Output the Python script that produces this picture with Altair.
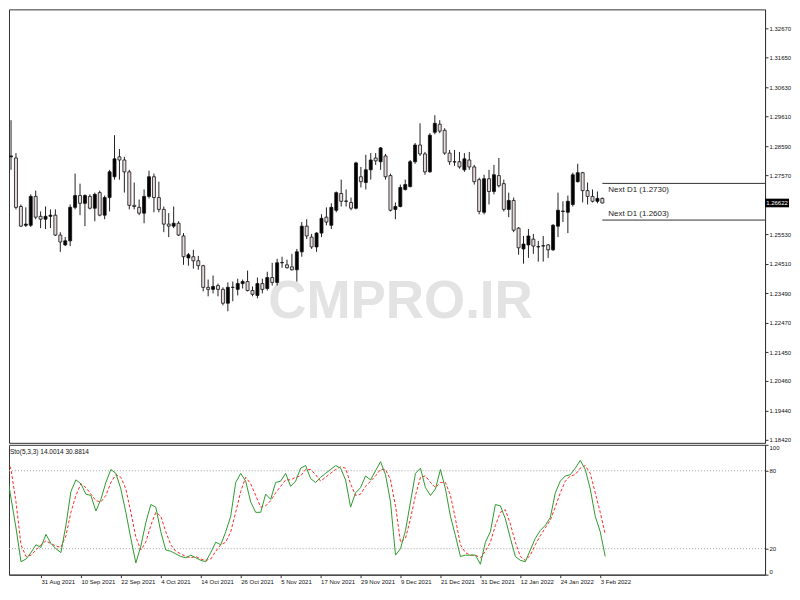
import altair as alt
import pandas as pd

# ---------------- data ----------------
open_p = [1.2784, 1.2822, 1.2818, 1.2650, 1.2585, 1.2585, 1.2685, 1.2616, 1.2606, 1.2616,
          1.2620, 1.2551, 1.2517, 1.2531, 1.2647, 1.2688, 1.2661, 1.2685, 1.2644, 1.2698,
          1.2620, 1.2681, 1.2753, 1.2822, 1.2811, 1.2770, 1.2654, 1.2647, 1.2627, 1.2685,
          1.2753, 1.2681, 1.2640, 1.2589, 1.2582, 1.2592, 1.2548, 1.2472, 1.2476, 1.2462,
          1.2445, 1.2370, 1.2363, 1.2376, 1.2363, 1.2315, 1.2370, 1.2363, 1.2383, 1.2390,
          1.2359, 1.2342, 1.2383, 1.2366, 1.2404, 1.2387, 1.2455, 1.2448, 1.2441, 1.2431,
          1.2493, 1.2582, 1.2544, 1.2510, 1.2558, 1.2613, 1.2585, 1.2637, 1.2695, 1.2668,
          1.2664, 1.2644, 1.2753, 1.2733, 1.2777, 1.2818, 1.2805, 1.2825, 1.2757, 1.2640,
          1.2650, 1.2709, 1.2719, 1.2805, 1.2863, 1.2832, 1.2770, 1.2907, 1.2935, 1.2914,
          1.2835, 1.2805, 1.2805, 1.2777, 1.2811, 1.2787, 1.2743, 1.2630, 1.2746, 1.2702,
          1.2757, 1.2729, 1.2640, 1.2671, 1.2575, 1.2503, 1.2517, 1.2537, 1.2510, 1.2513,
          1.2517, 1.2500, 1.2582, 1.2633, 1.2630, 1.2657, 1.2736, 1.2767, 1.2705, 1.2685,
          1.2668, 1.2678]
high_p = [1.2846, 1.2949, 1.2835, 1.2657, 1.2647, 1.2692, 1.2705, 1.2633, 1.2650, 1.2640,
          1.2640, 1.2561, 1.2544, 1.2657, 1.2764, 1.2729, 1.2692, 1.2692, 1.2698, 1.2705,
          1.2688, 1.2777, 1.2897, 1.2849, 1.2822, 1.2777, 1.2733, 1.2674, 1.2709, 1.2774,
          1.2764, 1.2736, 1.2650, 1.2627, 1.2650, 1.2599, 1.2558, 1.2489, 1.2500, 1.2479,
          1.2448, 1.2397, 1.2411, 1.2383, 1.2370, 1.2387, 1.2390, 1.2400, 1.2397, 1.2428,
          1.2373, 1.2404, 1.2400, 1.2424, 1.2455, 1.2469, 1.2476, 1.2466, 1.2486, 1.2503,
          1.2596, 1.2606, 1.2555, 1.2561, 1.2623, 1.2647, 1.2661, 1.2702, 1.2743, 1.2709,
          1.2681, 1.2805, 1.2787, 1.2829, 1.2835, 1.2835, 1.2856, 1.2832, 1.2764, 1.2664,
          1.2726, 1.2743, 1.2811, 1.2870, 1.2938, 1.2839, 1.2904, 1.2966, 1.2949, 1.2921,
          1.2846, 1.2846, 1.2839, 1.2835, 1.2839, 1.2794, 1.2750, 1.2760, 1.2777, 1.2794,
          1.2818, 1.2743, 1.2698, 1.2681, 1.2579, 1.2548, 1.2572, 1.2555, 1.2531, 1.2548,
          1.2520, 1.2589, 1.2698, 1.2668, 1.2688, 1.2767, 1.2798, 1.2770, 1.2733, 1.2709,
          1.2702, 1.2681]
low_p = [1.2770, 1.2777, 1.2640, 1.2579, 1.2579, 1.2579, 1.2606, 1.2575, 1.2572, 1.2575,
         1.2548, 1.2493, 1.2513, 1.2513, 1.2640, 1.2620, 1.2582, 1.2640, 1.2599, 1.2616,
         1.2606, 1.2633, 1.2743, 1.2743, 1.2698, 1.2640, 1.2640, 1.2620, 1.2592, 1.2678,
         1.2630, 1.2630, 1.2561, 1.2544, 1.2575, 1.2548, 1.2448, 1.2445, 1.2435, 1.2431,
         1.2356, 1.2339, 1.2349, 1.2339, 1.2308, 1.2287, 1.2322, 1.2342, 1.2366, 1.2356,
         1.2339, 1.2332, 1.2349, 1.2359, 1.2376, 1.2376, 1.2438, 1.2435, 1.2428, 1.2390,
         1.2476, 1.2537, 1.2503, 1.2493, 1.2544, 1.2585, 1.2572, 1.2630, 1.2650, 1.2650,
         1.2637, 1.2640, 1.2716, 1.2709, 1.2743, 1.2794, 1.2777, 1.2743, 1.2633, 1.2606,
         1.2647, 1.2705, 1.2716, 1.2798, 1.2825, 1.2760, 1.2767, 1.2900, 1.2904, 1.2829,
         1.2794, 1.2791, 1.2781, 1.2770, 1.2777, 1.2726, 1.2623, 1.2623, 1.2657, 1.2692,
         1.2716, 1.2633, 1.2613, 1.2561, 1.2483, 1.2452, 1.2472, 1.2486, 1.2459, 1.2459,
         1.2472, 1.2496, 1.2544, 1.2596, 1.2558, 1.2650, 1.2733, 1.2664, 1.2657, 1.2664,
         1.2661, 1.2661]
close_p = [1.2825, 1.2825, 1.2647, 1.2582, 1.2589, 1.2685, 1.2613, 1.2606, 1.2616, 1.2620,
           1.2551, 1.2527, 1.2531, 1.2647, 1.2688, 1.2661, 1.2688, 1.2644, 1.2692, 1.2620,
           1.2681, 1.2770, 1.2815, 1.2811, 1.2770, 1.2654, 1.2650, 1.2627, 1.2685, 1.2753,
           1.2681, 1.2640, 1.2589, 1.2582, 1.2592, 1.2551, 1.2476, 1.2483, 1.2462, 1.2445,
           1.2370, 1.2363, 1.2373, 1.2363, 1.2315, 1.2370, 1.2370, 1.2383, 1.2390, 1.2359,
           1.2346, 1.2383, 1.2363, 1.2404, 1.2387, 1.2455, 1.2456, 1.2438, 1.2431, 1.2493,
           1.2582, 1.2548, 1.2510, 1.2558, 1.2609, 1.2596, 1.2647, 1.2698, 1.2668, 1.2669,
           1.2644, 1.2801, 1.2736, 1.2777, 1.2811, 1.2808, 1.2853, 1.2753, 1.2637, 1.2650,
           1.2716, 1.2726, 1.2805, 1.2863, 1.2832, 1.2770, 1.2897, 1.2938, 1.2911, 1.2835,
           1.2805, 1.2804, 1.2787, 1.2815, 1.2787, 1.2736, 1.2633, 1.2746, 1.2702, 1.2760,
           1.2722, 1.2640, 1.2671, 1.2568, 1.2507, 1.2520, 1.2548, 1.2513, 1.2511, 1.2514,
           1.2500, 1.2585, 1.2637, 1.2634, 1.2668, 1.2760, 1.2767, 1.2705, 1.2685, 1.2668,
           1.2678, 1.26622]

stoch_k = [92, 82, 59, 36, 10, 12, 17, 23, 21, 31,
           24, 20, 17, 38, 64, 73, 70, 62, 61, 49,
           58, 71, 81, 78, 66, 48, 28, 9, 22, 40,
           54, 52, 33, 19, 18, 16, 14, 13, 15, 13,
           11, 10, 17, 25, 23, 33, 45, 71, 78, 72,
           56, 48, 48, 62, 58, 71, 72, 78, 68, 72,
           82, 84, 74, 71, 75, 78, 81, 84, 82, 73,
           52, 63, 67, 76, 73, 80, 87, 77, 56, 15,
           20, 34, 56, 78, 82, 67, 61, 66, 81, 66,
           45, 30, 14, 15, 15, 15, 8, 25, 33, 54,
           53, 43, 28, 14, 11, 10, 19, 28, 34, 38,
           44, 63, 72, 76, 77, 82, 88, 81, 66, 45,
           33, 14.0014]
stoch_d = [97, 92, 81, 56, 23, 14, 15, 19, 23, 26,
           24, 22, 21, 30, 48, 61, 70, 67, 62, 57,
           56, 61, 71, 77, 75, 66, 48, 29, 19, 25,
           38, 48, 45, 33, 23, 18, 16, 14, 13, 14,
           12, 11, 12, 18, 23, 25, 33, 48, 64, 75,
           70, 61, 52, 53, 57, 63, 68, 73, 73, 75,
           76, 81, 81, 77, 72, 75, 78, 81, 83, 82,
           70, 61, 62, 68, 72, 76, 81, 81, 73, 53,
           25, 28, 43, 61, 75, 76, 71, 67, 71, 71,
           61, 43, 23, 17, 15, 15, 13, 18, 25, 38,
           48, 50, 39, 25, 14, 11, 15, 23, 30, 36,
           42, 52, 63, 72, 76, 77, 82, 84, 78, 63,
           48, 30.8814]

price_ticks = [1.32670, 1.31650, 1.30630, 1.29610, 1.28590, 1.27570, 1.25530,
               1.24510, 1.23490, 1.22470, 1.21450, 1.20460, 1.19440, 1.18420]
stoch_ticks = [0, 20, 80, 100]
stoch_levels = [20, 80]
next_d1 = [1.2730, 1.2603]
last_price = 1.26622
first_date = "2021-08-19"
stoch_title = "Sto(5,3,3) 14.0014 30.8814"
watermark = "CMPRO.IR"

# ---------------- frames ----------------
n = len(close_p)
dates = pd.bdate_range(first_date, periods=n)
date_labels = [f"{d.day} {d.strftime('%b %Y')}" for d in dates]

candles = pd.DataFrame({"i": list(range(n)), "o": open_p, "h": high_p,
                        "l": low_p, "c": close_p})
candles["bull"] = candles["c"] >= candles["o"]
stoch = pd.DataFrame({"i": list(range(n)), "k": stoch_k, "d": stoch_d})
nd = pd.DataFrame({"i": [n - 1] * len(next_d1), "p": next_d1,
                   "lab": [f"Next D1 ({v:.4f})" for v in next_d1]})
lastdf = pd.DataFrame({"p": [last_price], "lab": [f"{last_price:.5f}"]})

PLOT_W = 757
MAIN_H = 434
SUB_H = 130
FONT = "Liberation Sans"
AX_FS = 6

x_scale = alt.Scale(domain=[1.6, 1.6 + PLOT_W / 5], nice=False, zero=False)
y_scale = alt.Scale(domain=[1.18316, 1.33327], nice=False, zero=False)
price_axis = alt.Axis(orient="right", values=price_ticks, format=".5f", title=None,
                      grid=False, tickSize=3, labelPadding=1, labelFontSize=AX_FS,
                      labelOverlap=False, labelFlush=False)

X = alt.X("i:Q", scale=x_scale, axis=None)

wm = alt.Chart(pd.DataFrame({"t": [watermark]})).mark_text(
    fontSize=53, font="Liberation Sans", fontWeight="bold",
    color="#e3e3e3", align="center", baseline="middle"
).encode(x=alt.value(392), y=alt.value(293), text="t:N")

wick = alt.Chart(candles).mark_rule(color="#222", strokeWidth=1, clip=True).encode(
    x=X, y=alt.Y("l:Q", scale=y_scale, axis=price_axis), y2="h:Q")

body = alt.Chart(candles).mark_bar(size=3, stroke="#111", strokeWidth=0.8, clip=True).encode(
    x=X, y=alt.Y("o:Q", scale=y_scale, axis=price_axis), y2="c:Q",
    fill=alt.condition("datum.bull", alt.value("#000000"), alt.value("#e8dada")))

nd_rule = alt.Chart(nd).mark_rule(color="#333", strokeWidth=1).encode(
    x=X, x2=alt.value(PLOT_W), y=alt.Y("p:Q", scale=y_scale, axis=price_axis))

nd_text_hi = alt.Chart(nd).transform_filter("datum.p > 1.265").mark_text(
    align="left", baseline="middle", dx=6, dy=7, fontSize=8, font=FONT, color="#222"
).encode(x=X, y=alt.Y("p:Q", scale=y_scale, axis=price_axis), text="lab:N")
nd_text_lo = alt.Chart(nd).transform_filter("datum.p < 1.265").mark_text(
    align="left", baseline="middle", dx=6, dy=-6, fontSize=8, font=FONT, color="#222"
).encode(x=X, y=alt.Y("p:Q", scale=y_scale, axis=price_axis), text="lab:N")

box = alt.Chart(lastdf).mark_point(shape="M-1,-0.36H1V0.36H-1Z", size=576, filled=True,
                                   color="#000", opacity=1, strokeWidth=0).encode(
    x=alt.value(PLOT_W + 12), y=alt.Y("p:Q", scale=y_scale, axis=price_axis))
box_text = alt.Chart(lastdf).mark_text(color="#fff", fontSize=AX_FS, font=FONT,
                                       align="center", baseline="middle").encode(
    x=alt.value(PLOT_W + 12), y=alt.Y("p:Q", scale=y_scale, axis=price_axis), text="lab:N")

main = alt.layer(wm, wick, body, nd_rule, nd_text_hi, nd_text_lo, box, box_text).properties(
    width=PLOT_W, height=MAIN_H)

# ---------------- stochastic ----------------
label_map = "{" + ",".join(f"'{i}':'{date_labels[i]}'" for i in range(8, n, 8)) + "}"
date_axis = alt.Axis(values=list(range(8, n, 8)), labelExpr=f"{label_map}[datum.value]",
                     labelAlign="left", labelFontSize=AX_FS, tickSize=3, labelPadding=1,
                     title=None, grid=False, labelOverlap=False, labelFlush=False)
sy_scale = alt.Scale(domain=[0, 100], nice=False, zero=False)
stoch_axis = alt.Axis(orient="right", values=stoch_ticks, title=None, grid=False,
                      tickSize=3, labelPadding=1, labelFontSize=AX_FS, labelFlush=True)
SX = alt.X("i:Q", scale=x_scale, axis=date_axis)

levels = alt.Chart(pd.DataFrame({"v": stoch_levels})).mark_rule(
    color="#a0a0a0", strokeDash=[1, 2], strokeWidth=1).encode(
    y=alt.Y("v:Q", scale=sy_scale, axis=stoch_axis))
kline = alt.Chart(stoch).mark_line(color="#2e9a2e", strokeWidth=1, clip=True).encode(
    x=SX, y=alt.Y("k:Q", scale=sy_scale, axis=stoch_axis))
dline = alt.Chart(stoch).mark_line(color="#ff2a2a", strokeWidth=1, strokeDash=[3, 2],
                                   clip=True).encode(
    x=SX, y=alt.Y("d:Q", scale=sy_scale, axis=stoch_axis))
stitle = alt.Chart(pd.DataFrame({"t": [stoch_title]})).mark_text(
    align="left", baseline="middle", fontSize=6.5, font=FONT, color="#111").encode(
    x=alt.value(1), y=alt.value(7), text="t:N")

sub = alt.layer(levels, dline, kline, stitle).properties(width=PLOT_W, height=SUB_H)

chart = alt.vconcat(main, sub, spacing=2, bounds="flush", padding=0).configure_view(
    stroke="#333", strokeWidth=1
).configure_axis(
    domainColor="#333", tickColor="#333", labelColor="#111", labelFont=FONT
)

chart.save("out.html", embed_options={"renderer": "svg", "actions": False})
